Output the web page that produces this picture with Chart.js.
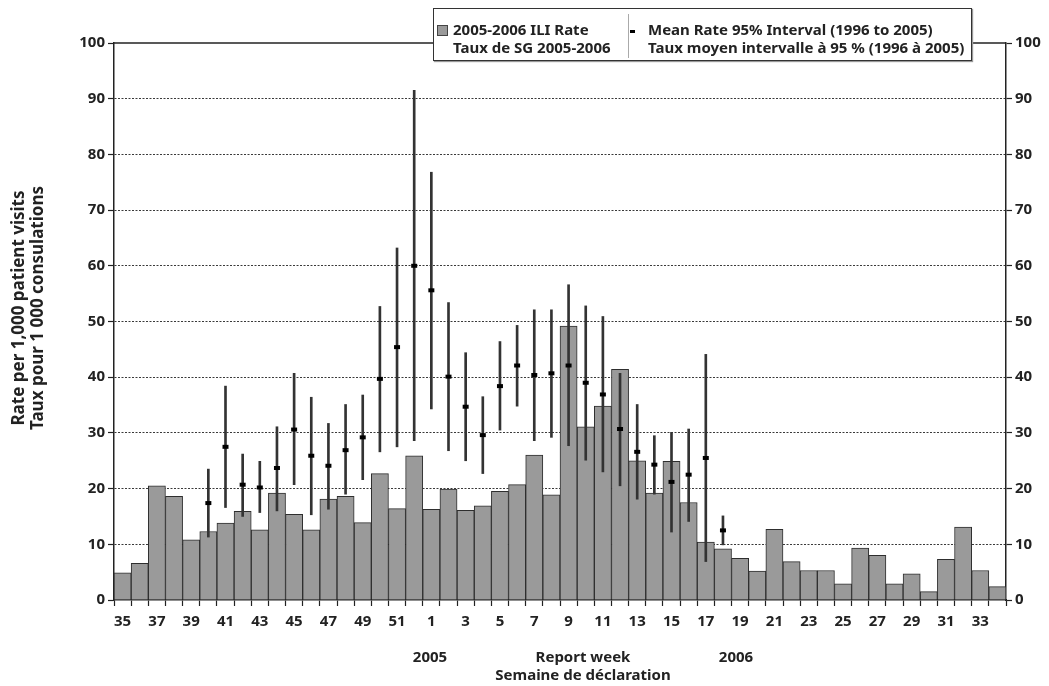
<!DOCTYPE html>
<html>
<head>
<meta charset="utf-8">
<script src="https://cdn.jsdelivr.net/npm/chart.js@4.4.1/dist/chart.umd.min.js"></script>
<style>
  html, body { margin: 0; padding: 0; background: #fff; }
  #wrap { position: relative; width: 1049px; height: 686px; font-family: "Noto Sans", "Open Sans", sans-serif; font-weight: bold; color: #222; }
  canvas { position: absolute; left: 0; top: 0; }
  .legend { position: absolute; left: 433px; top: 8px; width: 537px; height: 51px; background: #fff;
            border: 1.5px solid #333; box-shadow: 1px 1px 1px #999; font-size: 15px; line-height: 18px; }
  .legend .sw { position: absolute; left: 3px; top: 16px; width: 9px; height: 9px; background: #9a9a9a; border: 1px solid #444; }
  .legend .t1 { position: absolute; left: 19px; top: 11px; white-space: nowrap; text-align: left; }
  .legend .sep { position: absolute; left: 194px; top: 5px; width: 1px; height: 44px; background: #aaa; }
  .legend .mk { position: absolute; left: 196px; top: 21px; width: 5px; height: 3px; background: #000; }
  .legend .t2 { position: absolute; left: 214px; top: 11px; white-space: nowrap; text-align: left; }
  .ytitle { position: absolute; left: -142px; top: 288px; width: 340px; height: 40px; text-align: center;
            font-size: 17px; line-height: 19px; transform: rotate(-90deg); white-space: nowrap; }
  .xt { position: absolute; font-size: 15px; line-height: 18px; white-space: nowrap; transform: translateX(-50%); }
</style>
</head>
<body>
<div id="wrap">
  <canvas id="c" width="1049" height="686"></canvas>
  <div class="legend">
    <div class="sw"></div>
    <div class="t1">2005-2006 ILI Rate<br>Taux de SG 2005-2006</div>
    <div class="sep"></div>
    <div class="mk"></div>
    <div class="t2">Mean Rate 95% Interval (1996 to 2005)<br>Taux moyen intervalle à 95 % (1996 à 2005)</div>
  </div>
  <div class="ytitle">Rate per 1,000 patient visits<br>Taux pour 1 000 consulations</div>
  <div class="xt" style="left:430px; top:647px;">2005</div>
  <div class="xt" style="left:583px; top:647px;">Report week</div>
  <div class="xt" style="left:736px; top:647px;">2006</div>
  <div class="xt" style="left:583px; top:665px;">Semaine de déclaration</div>
</div>
<script>
const weeks = ['35','36','37','38','39','40','41','42','43','44','45','46','47','48','49','50','51','52',
  '1','2','3','4','5','6','7','8','9','10','11','12','13','14','15','16','17','18','19','20',
  '21','22','23','24','25','26','27','28','29','30','31','32','33','34'];

const iliRate = [4.9, 6.6, 20.5, 18.6, 10.8, 12.3, 13.8, 15.9, 12.6, 19.2, 15.4, 12.6, 18.1, 18.6, 13.9, 22.7, 16.4, 25.9,
  16.3, 19.9, 16.1, 16.9, 19.5, 20.7, 26.0, 18.9, 49.2, 31.1, 34.8, 41.4, 25.0, 19.2, 24.9, 17.5, 10.4, 9.2, 7.5, 5.2,
  12.7, 6.9, 5.3, 5.3, 2.9, 9.3, 8.0, 2.9, 4.7, 1.5, 7.3, 13.1, 5.3, 2.4];

const meanRate = [null, null, null, null, null, 17.4, 27.5, 20.7, 20.2, 23.7, 30.6, 25.9, 24.1, 26.9, 29.2, 39.7, 45.4, 60.0,
  55.6, 40.1, 34.7, 29.6, 38.4, 42.1, 40.4, 40.7, 42.1, 39.0, 36.9, 30.7, 26.6, 24.3, 21.2, 22.5, 25.5, 12.5, null, null,
  null, null, null, null, null, null, null, null, null, null, null, null, null, null];

const lowerCI = [null, null, null, null, null, 11.3, 16.6, 15.0, 15.7, 16.0, 20.7, 15.3, 16.3, 19.0, 21.6, 26.6, 27.5, 28.6,
  34.3, 26.8, 25.0, 22.7, 30.5, 34.8, 28.6, 29.2, 27.7, 25.1, 23.0, 20.5, 18.1, 19.0, 12.2, 14.1, 6.9, 9.9, null, null,
  null, null, null, null, null, null, null, null, null, null, null, null, null, null];

const upperCI = [null, null, null, null, null, 23.5, 38.4, 26.2, 24.9, 31.1, 40.7, 36.4, 31.7, 35.1, 36.8, 52.7, 63.2, 91.5,
  76.8, 53.4, 44.4, 36.5, 46.4, 49.3, 52.1, 52.1, 56.6, 52.8, 50.9, 40.7, 35.1, 29.5, 30.1, 30.7, 44.1, 15.1, null, null,
  null, null, null, null, null, null, null, null, null, null, null, null, null, null];

const yTicks = [0, 10, 20, 30, 40, 50, 60, 70, 80, 90, 100];

const intervals = lowerCI.map((lo, i) => (lo === null ? null : [lo, upperCI[i]]));

const tickFont = { family: "'Noto Sans', 'Open Sans', sans-serif", weight: 'bold', size: 15 };

const topBorder = {
  id: 'topBorder',
  afterDraw(chart) {
    const { ctx, chartArea } = chart;
    ctx.save();
    ctx.strokeStyle = '#222';
    ctx.lineWidth = 1.5;
    ctx.beginPath();
    ctx.moveTo(chartArea.left, chartArea.top);
    ctx.lineTo(chartArea.right, chartArea.top);
    ctx.stroke();
    ctx.restore();
  }
};

new Chart(document.getElementById('c'), {
  data: {
    labels: weeks,
    datasets: [
      {
        type: 'line', label: 'Mean', data: meanRate, showLine: false, order: 1,
        pointStyle: 'line', pointRadius: 3, pointBorderWidth: 4, pointBorderColor: '#000', pointBackgroundColor: '#000',
        pointHoverRadius: 3
      },
      {
        type: 'bar', label: 'Interval', data: intervals, order: 2, grouped: false,
        backgroundColor: '#333', borderWidth: 0, barThickness: 2
      },
      {
        type: 'bar', label: 'ILI', data: iliRate, order: 3, grouped: false,
        backgroundColor: '#9a9a9a', borderColor: '#2e2e2e', borderWidth: 1,
        categoryPercentage: 1, barPercentage: 1
      }
    ]
  },
  options: {
    responsive: false,
    animation: false,
    devicePixelRatio: 1,
    layout: { padding: { top: 43, left: 0, right: 0, bottom: 0 } },
    plugins: { legend: { display: false }, tooltip: { enabled: false } },
    scales: {
      x: {
        type: 'category', offset: true,
        grid: { offset: true, drawOnChartArea: false, drawTicks: true, tickLength: 6, tickColor: '#222', tickWidth: 1.2 },
        border: { display: true, color: '#222', width: 1.5 },
        ticks: {
          autoSkip: false, maxRotation: 0, minRotation: 0, color: '#222', font: tickFont, padding: 7,
          callback: (v, i) => (i % 2 === 0 ? weeks[i] : '')
        },
        afterFit: (s) => { s.height = 86; }
      },
      y: {
        position: 'left', min: 0, max: 100,
        afterBuildTicks: (s) => { s.ticks = yTicks.map(v => ({ value: v })); },
        grid: {
          color: (ctx) => (ctx.tick && (ctx.tick.value === 0 || ctx.tick.value === 100) ? 'rgba(0,0,0,0)' : '#3a3a3a'),
          lineWidth: 1, drawTicks: true, tickLength: 6, tickColor: '#222', tickWidth: 1.2
        },
        border: { display: true, color: '#222', width: 1.5, dash: [2, 1.5] },
        ticks: { color: '#222', font: tickFont, padding: 3 },
        afterFit: (s) => { s.width = 114; }
      },
      y2: {
        position: 'right', min: 0, max: 100,
        afterBuildTicks: (s) => { s.ticks = yTicks.map(v => ({ value: v })); },
        grid: { drawOnChartArea: false, drawTicks: true, tickLength: 6, tickColor: '#222', tickWidth: 1.2 },
        border: { display: true, color: '#222', width: 1.5 },
        ticks: { color: '#222', font: tickFont, padding: 3 },
        afterFit: (s) => { s.width = 43; }
      }
    }
  },
  plugins: [topBorder]
});
</script>
</body>
</html>
